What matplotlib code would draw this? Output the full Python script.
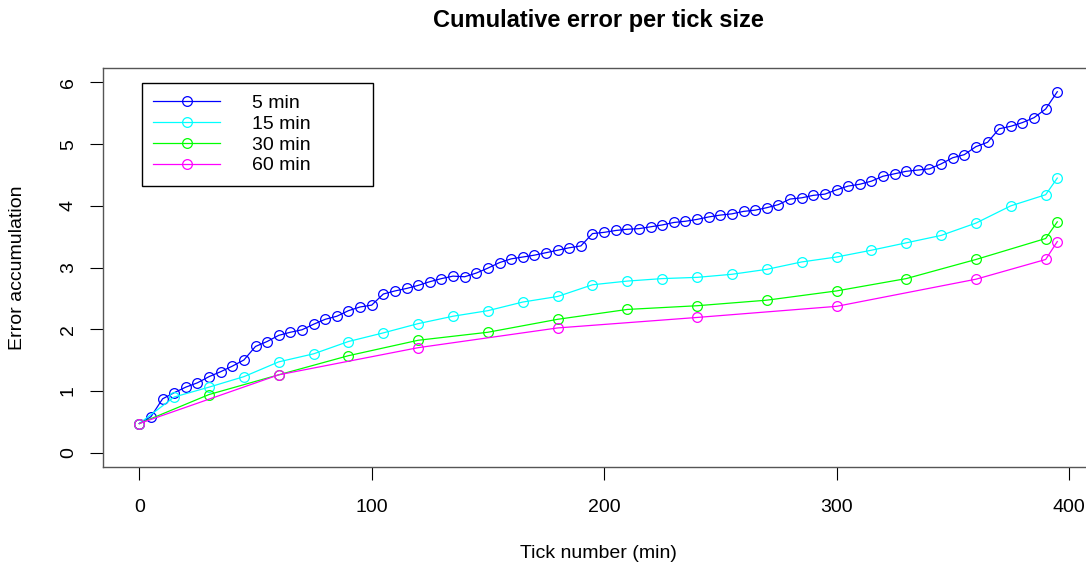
import numpy as np
import matplotlib.pyplot as plt

plt.rcParams['font.family'] = ['Liberation Sans', 'DejaVu Sans']

# Cumulative error values, one array per tick size
x_5 = np.arange(0, 400, 5)
err_5 = [0.47, 0.58, 0.87, 0.97, 1.06, 1.13, 1.23, 1.31, 1.40, 1.50,
         1.72, 1.80, 1.90, 1.95, 1.99, 2.08, 2.16, 2.21, 2.30, 2.36,
         2.39, 2.57, 2.62, 2.66, 2.71, 2.77, 2.82, 2.86, 2.85, 2.91,
         2.99, 3.08, 3.14, 3.17, 3.20, 3.24, 3.28, 3.32, 3.35, 3.55,
         3.57, 3.60, 3.62, 3.63, 3.66, 3.69, 3.73, 3.75, 3.78, 3.82,
         3.85, 3.87, 3.91, 3.93, 3.97, 4.02, 4.11, 4.13, 4.17, 4.19,
         4.26, 4.32, 4.35, 4.40, 4.48, 4.52, 4.56, 4.58, 4.60, 4.68,
         4.78, 4.83, 4.96, 5.03, 5.25, 5.29, 5.35, 5.43, 5.57, 5.85]

x_15 = [0, 15, 30, 45, 60, 75, 90, 105, 120, 135, 150, 165, 180, 195,
        210, 225, 240, 255, 270, 285, 300, 315, 330, 345, 360, 375, 390, 395]
err_15 = [0.47, 0.90, 1.06, 1.23, 1.47, 1.60, 1.80, 1.94, 2.09, 2.21,
          2.30, 2.44, 2.53, 2.72, 2.78, 2.82, 2.84, 2.89, 2.97, 3.09,
          3.17, 3.28, 3.40, 3.52, 3.72, 4.00, 4.18, 4.45]

x_30 = [0, 30, 60, 90, 120, 150, 180, 210, 240, 270, 300, 330, 360, 390, 395]
err_30 = [0.47, 0.94, 1.26, 1.57, 1.82, 1.95, 2.16, 2.32, 2.38, 2.47,
          2.62, 2.82, 3.13, 3.47, 3.74]

x_60 = [0, 60, 120, 180, 240, 300, 360, 390, 395]
err_60 = [0.47, 1.26, 1.70, 2.02, 2.19, 2.37, 2.81, 3.13, 3.42]

labels = ['5 min', '15 min', '30 min', '60 min']
colors = ['#0000ff', '#00ffff', '#00ff00', '#ff00ff']

W, H = 1086, 567
fig = plt.figure(figsize=(W / 100, H / 100), dpi=100)

# plot region in pixels (R style: right edge runs off the image)
left, right, top, bottom = 102.6, 1094.0, 67.7, 467.3
ax = fig.add_axes([left / W, (H - bottom) / H, (right - left) / W, (bottom - top) / H])

series = [(x_5, err_5), (x_15, err_15), (x_30, err_30), (x_60, err_60)]
for (xs, ys), lab, col in zip(series, labels, colors):
    ax.plot(xs, ys, color=col, lw=0.9, marker='o', ms=7, mfc='none',
            mec=col, mew=0.9, label=lab)

# R's 4% axis extension
xmin, xmax = 0, 395
ymin, ymax = 0, 6
dx = (xmax - xmin) * 0.04
dy = (ymax - ymin) * 0.04
ax.set_xlim(xmin - dx, xmax + dx)
ax.set_ylim(ymin - dy, ymax + dy)
ax.set_xticks([0, 100, 200, 300, 400])
ax.set_yticks(range(0, 7))

for s in ax.spines.values():
    s.set_color('#555555')
    s.set_linewidth(1.0)

ax.tick_params(direction='out', length=9.5, width=0.8, color='black',
               labelsize=14)
ax.tick_params(axis='x', pad=13)
ax.tick_params(axis='y', labelrotation=90, pad=9)
for t in ax.get_yticklabels():
    t.set_va('center')

ax.set_title('Cumulative error per tick size', fontsize=17, fontweight='bold',
             y=1 + (top - 21) / (bottom - top), va='center', pad=0)
ax.set_xlabel('Tick number (min)', fontsize=14, va='center')
ax.xaxis.set_label_coords(0.5, -(553 - bottom) / (bottom - top))
ax.set_ylabel('Error accumulation', fontsize=14, va='center')
ax.yaxis.set_label_coords(-(left - 17.5) / (right - left), 0.5)

lg_x0 = (141.7 - left) / (right - left)
lg_w = (373.3 - 141.7) / (right - left)
lg_top = (bottom - 83.3) / (bottom - top)
leg = ax.legend(loc='upper left', bbox_to_anchor=(lg_x0, lg_top - 0.3, lg_w, 0.3),
                mode='expand', borderaxespad=0, fontsize=14, frameon=True,
                fancybox=False, framealpha=1, edgecolor='black',
                handlelength=3.45, handletextpad=1.65, labelspacing=0.16,
                borderpad=0.58)
leg.get_frame().set_linewidth(1.0)

fig.savefig('out.png', dpi=100)
